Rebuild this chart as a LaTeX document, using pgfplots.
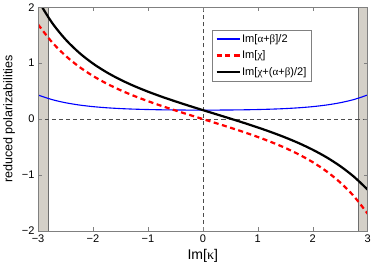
\documentclass[border=0pt]{standalone}
\usepackage{fontspec}
\setmainfont{Liberation Sans}
\newfontfamily\symfont{Liberation Serif}
\usepackage{pgfplots}
\pgfplotsset{compat=1.18}
\definecolor{bandgray}{RGB}{212,208,200}
\definecolor{banddraw}{RGB}{110,110,110}
\begin{document}
\begin{tikzpicture}
\begin{axis}[
  scale only axis, width=327bp, height=222bp,
  xmin=-3, xmax=3, ymin=-2, ymax=2,
  xtick={-3,-2,-1,0,1,2,3}, xticklabels={−3,−2,−1,0,1,2,3},
  ytick={-2,-1,0,1,2}, yticklabels={−2,−1,0,1,2},
  tick align=inside, major tick length=4bp,
  axis line style={black!50}, tick style={black!50},
  ticklabel style={font=\fontsize{11}{12}\selectfont},
  xlabel={Im[{\symfont κ}]}, ylabel={reduced polarizabilities},
  xlabel style={font=\fontsize{14}{16}\selectfont},
  ylabel style={font=\fontsize{12.5}{14}\selectfont},
  legend style={at={(0.529,0.90)}, anchor=north west, draw=black!50,
    font=\fontsize{11}{13}\selectfont, row sep=4pt, inner sep=3pt,
    nodes={inner sep=1.5pt}},
  legend cell align=left,
  legend image code/.code={\draw[#1] plot coordinates {(0cm,0cm) (0.8cm,0cm)};},
  axis on top,
]
\addplot [fill=bandgray, draw=banddraw, forget plot] coordinates {(-3,-2) (-2.82,-2) (-2.82,2) (-3,2)} -- cycle;
\addplot [fill=bandgray, draw=banddraw, forget plot] coordinates {(2.82,-2) (3,-2) (3,2) (2.82,2)} -- cycle;
\addplot [black!70, dash pattern=on 4bp off 3bp, line width=0.6bp, forget plot] coordinates {(-3,0) (3,0)};
\addplot [black!70, dash pattern=on 4bp off 3bp, line width=0.6bp, forget plot] coordinates {(0,-2) (0,2)};
% Im[alpha+beta]/2
\addplot [blue, line width=1.1bp, smooth] coordinates {
 (-3,0.4298) (-2.75,0.3488) (-2.5,0.2916) (-2.25,0.2509) (-2,0.2220) (-1.75,0.2016) (-1.5,0.1871)
 (-1.25,0.1771) (-1,0.1701) (-0.75,0.1653) (-0.5,0.1622) (-0.25,0.1605) (0,0.16)
 (0.25,0.1605) (0.5,0.1622) (0.75,0.1653) (1,0.1701) (1.25,0.1771) (1.5,0.1871) (1.75,0.2016)
 (2,0.2220) (2.25,0.2509) (2.5,0.2916) (2.75,0.3488) (3,0.4298)};
\addlegendentry{Im[{\symfont α}+{\symfont β}]/2}
% Im[chi]
\addplot [red, line width=2.2bp, dash pattern=on 5bp off 3.5bp, smooth] coordinates {
 (-3,1.6910) (-2.75,1.3789) (-2.5,1.1320) (-2.25,0.9333) (-2,0.7703) (-1.75,0.6336) (-1.5,0.5162)
 (-1.25,0.4131) (-1,0.3202) (-0.75,0.2345) (-0.5,0.1538) (-0.25,0.0762) (0,0)
 (0.25,-0.0762) (0.5,-0.1538) (0.75,-0.2345) (1,-0.3202) (1.25,-0.4131) (1.5,-0.5162) (1.75,-0.6336)
 (2,-0.7703) (2.25,-0.9333) (2.5,-1.1320) (2.75,-1.3789) (3,-1.6910)};
\addlegendentry{Im[{\symfont χ}]}
% Im[chi+(alpha+beta)/2]
\addplot [black, line width=2.2bp, smooth] coordinates {
 (-3,2.1208) (-2.75,1.7277) (-2.5,1.4236) (-2.25,1.1842) (-2,0.9923) (-1.75,0.8352) (-1.5,0.7033)
 (-1.25,0.5902) (-1,0.4903) (-0.75,0.3998) (-0.5,0.3160) (-0.25,0.2367) (0,0.16)
 (0.25,0.0843) (0.5,0.0084) (0.75,-0.0692) (1,-0.1501) (1.25,-0.2360) (1.5,-0.3291) (1.75,-0.4320)
 (2,-0.5483) (2.25,-0.6824) (2.5,-0.8404) (2.75,-1.0301) (3,-1.2612)};
\addlegendentry{Im[{\symfont χ}+({\symfont α}+{\symfont β})/2]}
\end{axis}
\end{tikzpicture}
\end{document}
